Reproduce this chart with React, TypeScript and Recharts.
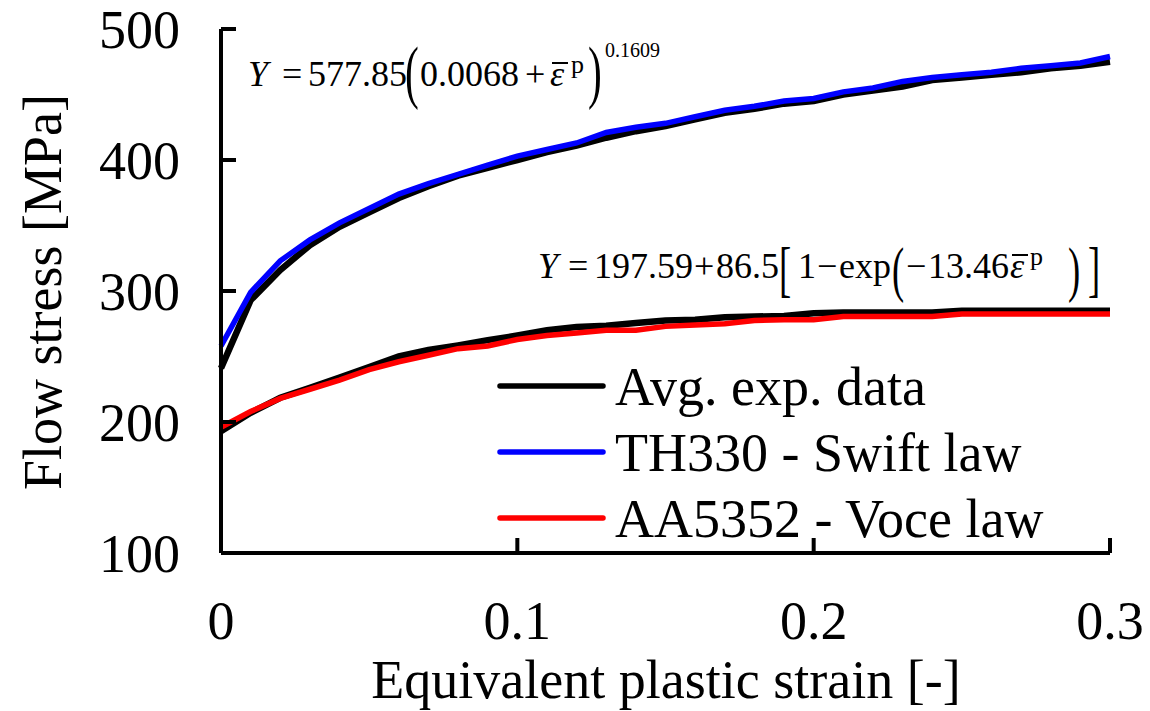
import React from 'react';
import { LineChart, Line, XAxis, YAxis, Customized } from 'recharts';

const strain = [0, 0.01, 0.02, 0.03, 0.04, 0.05, 0.06, 0.07, 0.08, 0.09, 0.1, 0.11, 0.12, 0.13, 0.14, 0.15, 0.16, 0.17, 0.18, 0.19, 0.2, 0.21, 0.22, 0.23, 0.24, 0.25, 0.26, 0.27, 0.28, 0.29, 0.3];
const th330Exp = [241, 293, 316, 335, 349, 360, 371, 380, 388, 394, 400, 406, 411, 417, 422, 426, 431, 436, 439, 443, 445, 450, 453, 456, 461, 463, 465, 467, 470, 472, 475];
const th330Swift = [258, 299, 323, 339, 352, 363, 374, 382, 389, 396, 403, 408, 413, 421, 425, 428, 433, 438, 441, 445, 447, 452, 455, 460, 463, 465, 467, 470, 472, 474, 479];
const aa5352Exp = [193, 207, 218.5, 226, 234, 242, 250, 255, 258.5, 262.5, 266, 270, 272.5, 273.5, 275.5, 277.5, 278, 280, 280.5, 281, 283, 283.5, 283.5, 283.5, 283.5, 285, 285, 285, 285, 285, 285];
const aa5352Voce = [196, 208, 218, 225, 232, 240, 246, 251, 256, 258, 263, 266, 268, 270, 270, 273, 274, 275, 277.5, 278, 278, 280.5, 280.5, 280.5, 280.5, 282.5, 282.5, 282.5, 282.5, 282.5, 282.5];

const xTicks = [0, 0.1, 0.2, 0.3];
const xTickLabels = ['0', '0.1', '0.2', '0.3'];
const yTicks = [100, 200, 300, 400, 500];

const legendNames = ['Avg. exp. data', 'TH330 - Swift law', 'AA5352 - Voce law'];
const legendColors = ['#000000', '#0000FF', '#FF0000'];

const data = strain.map((s, i) => ({
  s,
  thExp: th330Exp[i],
  thFit: th330Swift[i],
  aaExp: aa5352Exp[i],
  aaFit: aa5352Voce[i],
}));

const FONT = '"Liberation Serif", "Times New Roman", serif';
const AXW = 4;

function T({ x, y, size = 36, italic = false, sx = 1, children }: any) {
  return (
    <text
      transform={`translate(${x},${y}) scale(${sx},1)`}
      fontSize={size}
      fontStyle={italic ? 'italic' : 'normal'}
      fontFamily={FONT}
      fill="#000"
    >
      {children}
    </text>
  );
}

function Overlay() {
  return (
    <g>
      <text x={666} y={698} textAnchor="middle" fontSize={54} fontFamily={FONT} fill="#000">
        Equivalent plastic strain [-]
      </text>
      <text
        x={61}
        y={292}
        transform="rotate(-90, 61, 292)"
        textAnchor="middle"
        fontSize={54}
        fontFamily={FONT}
        fill="#000"
      >
        Flow stress [MPa]
      </text>

      {legendNames.map((n, i) => (
        <g key={n}>
          <line x1={500} x2={603} y1={386 + i * 66} y2={386 + i * 66} stroke={legendColors[i]} strokeWidth={5.5} strokeLinecap="round" />
          <text x={615} y={405 + i * 66} fontSize={54} fontFamily={FONT} fill="#000">
            {n}
          </text>
        </g>
      ))}

      <T x={248} y={86} italic>Y</T>
      <T x={282} y={86}>=</T>
      <T x={308} y={86}>577.85</T>
      <T x={405} y={95} size={69} sx={0.6}>(</T>
      <T x={420} y={86}>0.0068</T>
      <T x={525} y={86}>+</T>
      <T x={550} y={86} italic>ε</T>
      <line x1={552} x2={568} y1={63} y2={63} stroke="#000" strokeWidth={2} />
      <T x={571} y={73} size={26}>p</T>
      <T x={588} y={95} size={69} sx={0.6}>)</T>
      <T x={605} y={57} size={20}>0.1609</T>

      <T x={538} y={278} italic>Y</T>
      <T x={568} y={278}>=</T>
      <T x={594} y={278}>197.59</T>
      <T x={694} y={278}>+</T>
      <T x={716} y={278}>86.5</T>
      <T x={779} y={290} size={61} sx={0.6}>[</T>
      <T x={798} y={278}>1</T>
      <T x={817} y={278}>−</T>
      <T x={839} y={278}>exp</T>
      <T x={892} y={290} size={61} sx={0.6}>(</T>
      <T x={906} y={278}>−</T>
      <T x={928} y={278}>13.46</T>
      <T x={1010} y={278} italic>ε</T>
      <line x1={1012} x2={1028} y1={255} y2={255} stroke="#000" strokeWidth={2} />
      <T x={1030} y={265} size={26}>p</T>
      <T x={1068} y={290} size={61} sx={0.6}>)</T>
      <T x={1088} y={290} size={61} sx={0.6}>]</T>
    </g>
  );
}

export default function App() {
  return (
    <div style={{ position: 'absolute', left: 0, top: 0, width: 1150, height: 711, background: '#fff' }}>
      <LineChart width={1150} height={711} data={data} margin={{ top: 29, right: 40, bottom: 0, left: 0 }}>
        <XAxis
          dataKey="s"
          type="number"
          domain={[0, 0.3]}
          ticks={xTicks}
          tickFormatter={(v: number) => xTickLabels[xTicks.indexOf(v)] ?? String(v)}
          height={158}
          tickSize={-15}
          tickMargin={63}
          stroke="#000"
          strokeWidth={AXW}
          axisLine={{ stroke: '#000', strokeWidth: AXW }}
          tickLine={{ stroke: '#000', strokeWidth: AXW }}
          tick={{ fill: '#000', fontSize: 54, fontFamily: FONT, strokeWidth: 0 }}
          interval={0}
        />
        <XAxis xAxisId="top" orientation="top" dataKey="s" type="number" domain={[0, 0.3]} height={0} tick={false} tickLine={false} stroke="#000" strokeWidth={AXW} axisLine={{ stroke: '#000', strokeWidth: AXW }} />
        <YAxis
          type="number"
          domain={[100, 500]}
          ticks={yTicks}
          width={221}
          tickSize={-15}
          tickMargin={56}
          stroke="#000"
          strokeWidth={AXW}
          axisLine={{ stroke: '#000', strokeWidth: AXW }}
          tickLine={{ stroke: '#000', strokeWidth: AXW }}
          tick={{ fill: '#000', fontSize: 54, fontFamily: FONT, strokeWidth: 0 }}
          interval={0}
        />
        <YAxis yAxisId="right" orientation="right" domain={[100, 500]} width={0} tick={false} tickLine={false} stroke="#000" strokeWidth={AXW} axisLine={{ stroke: '#000', strokeWidth: AXW }} />
        <Line type="linear" dataKey="thExp" stroke="#000000" strokeWidth={6.5} dot={false} isAnimationActive={false} />
        <Line type="linear" dataKey="aaExp" stroke="#000000" strokeWidth={6.5} dot={false} isAnimationActive={false} />
        <Line type="linear" dataKey="thFit" stroke="#0000FF" strokeWidth={5.5} dot={false} isAnimationActive={false} />
        <Line type="linear" dataKey="aaFit" stroke="#FF0000" strokeWidth={5.5} dot={false} isAnimationActive={false} />
        <Customized component={Overlay} />
      </LineChart>
    </div>
  );
}
